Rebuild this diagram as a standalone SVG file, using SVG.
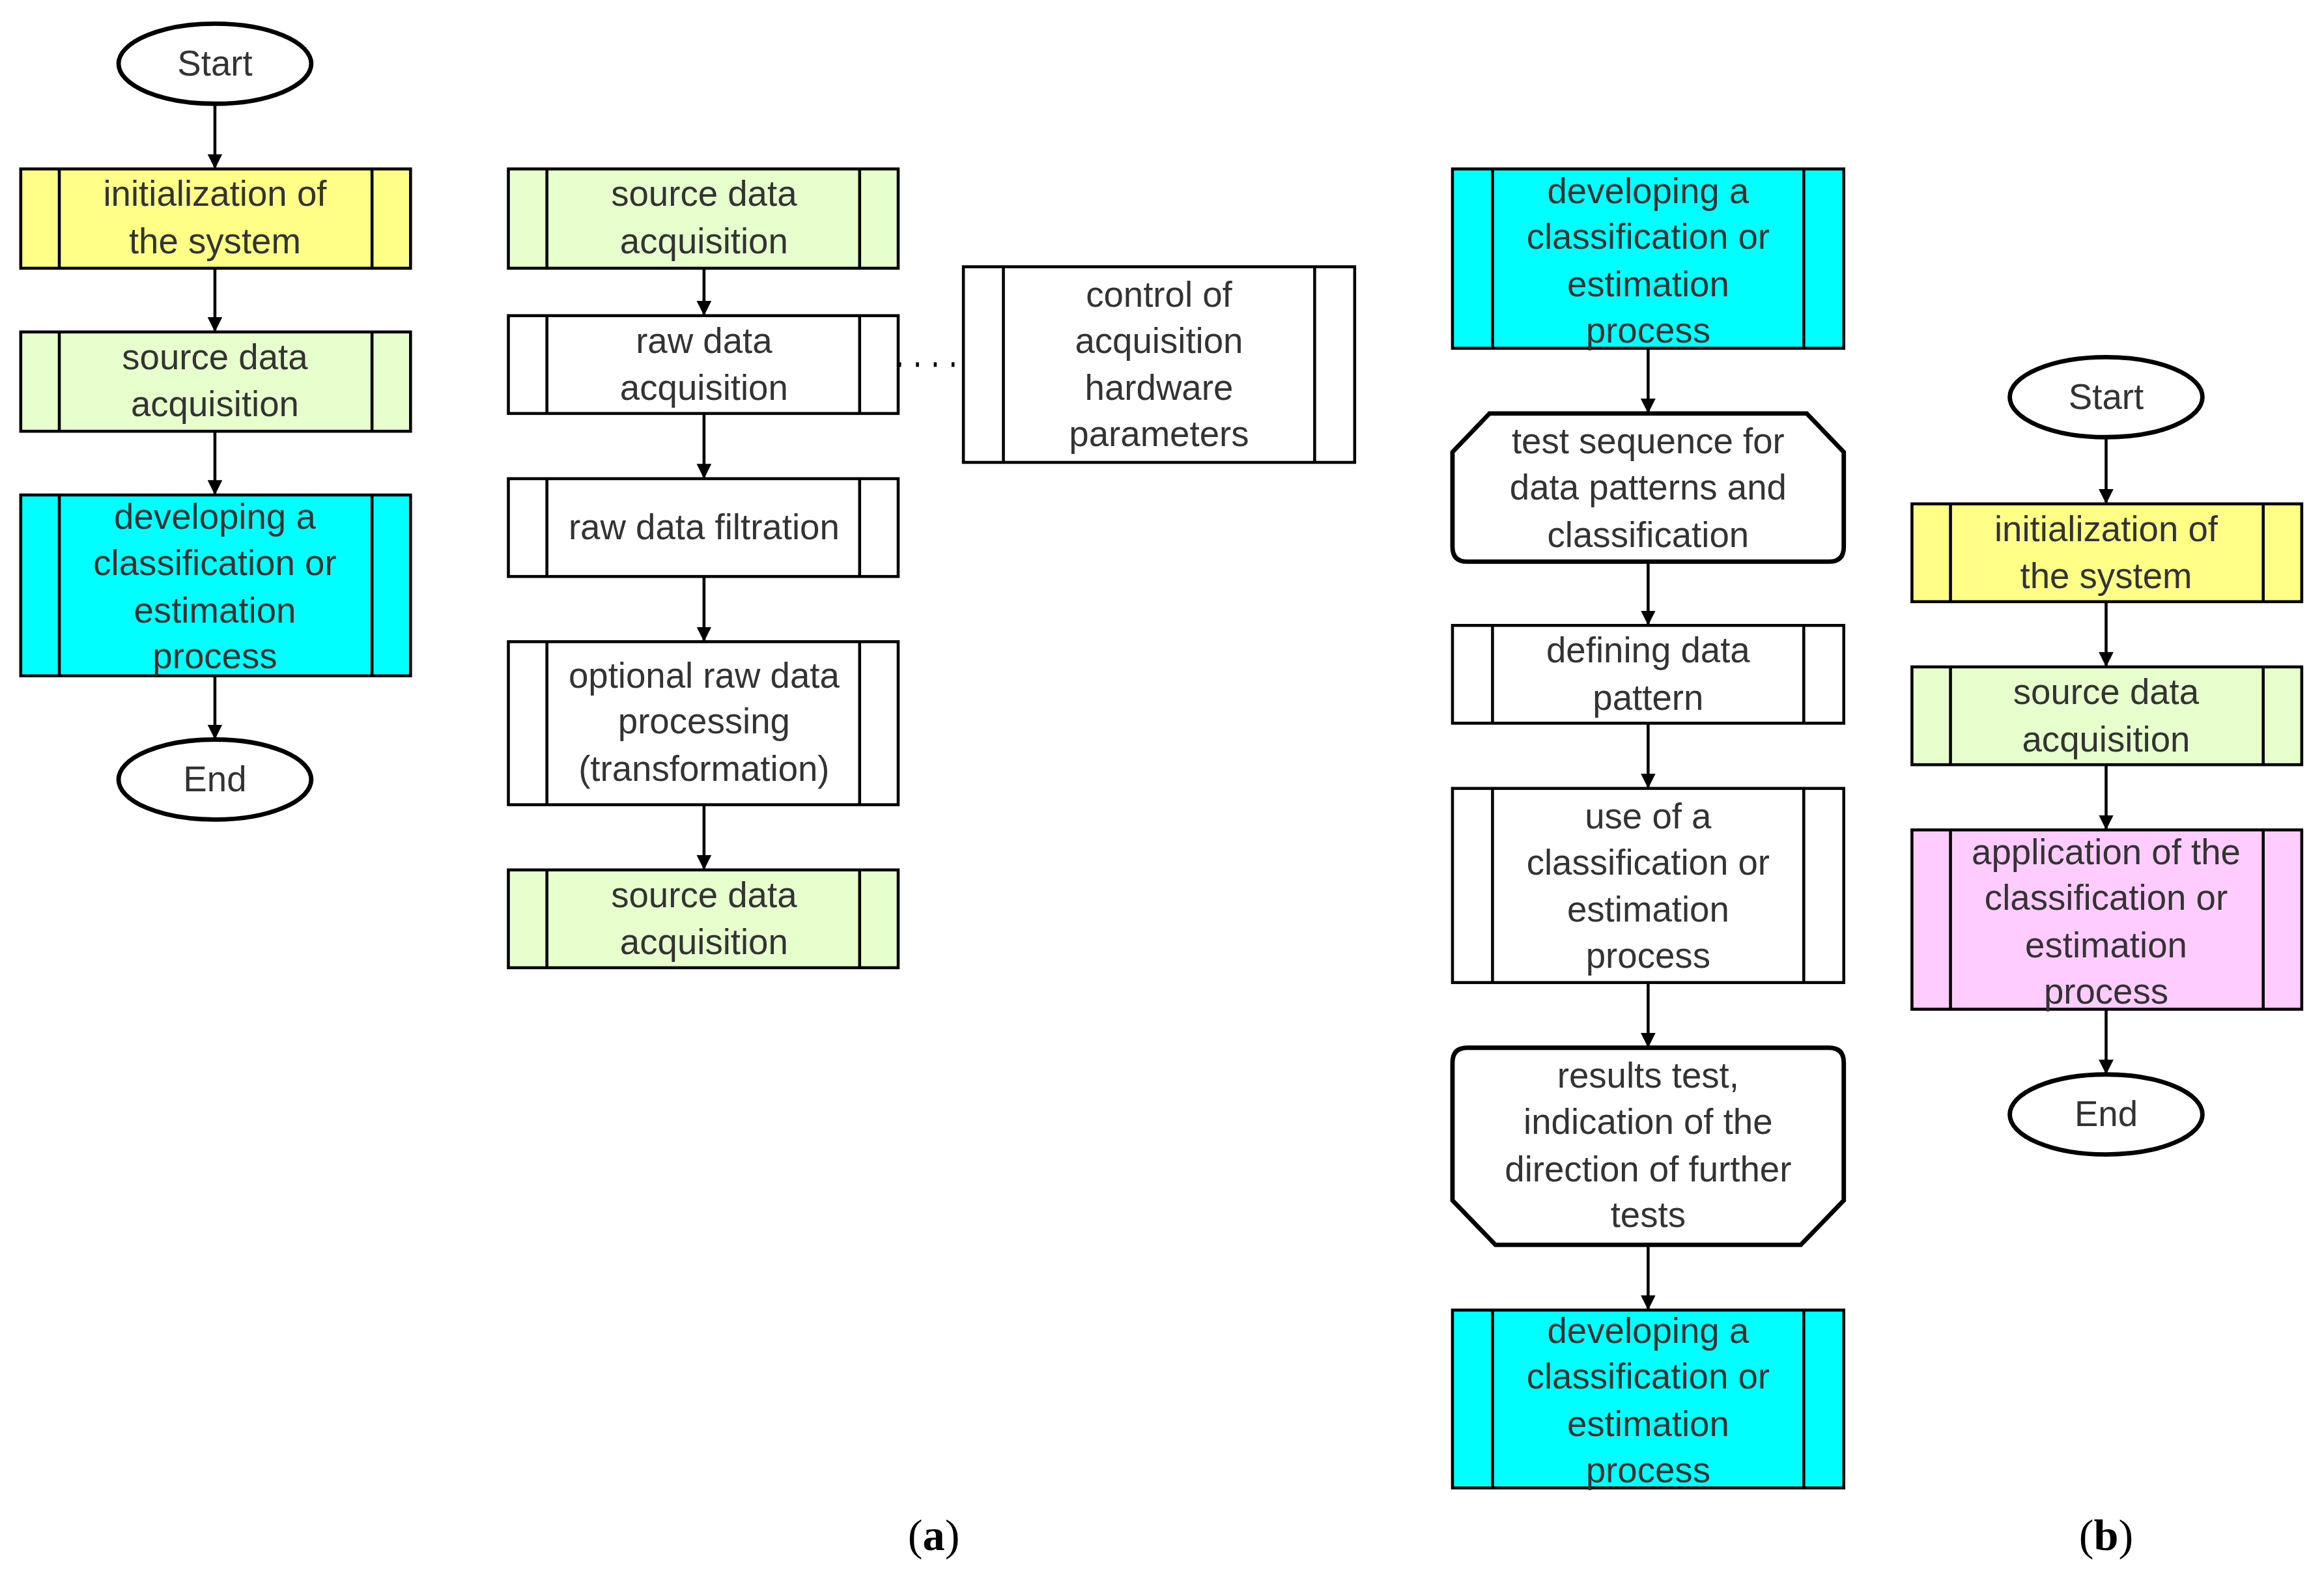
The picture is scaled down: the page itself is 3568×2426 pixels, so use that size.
<svg xmlns="http://www.w3.org/2000/svg" width="3568" height="2426" viewBox="0 0 3568 2426">
<defs>
<style>
.b{stroke:#000;stroke-width:2}
.y{fill:#ffff88}.g{fill:#e6ffcc}.c{fill:#00ffff}.w{fill:#fff}.p{fill:#ffccff}
.t{font-family:"Liberation Sans",Arial,sans-serif;font-size:24px;fill:#333;text-anchor:middle}
.e{stroke:#000;stroke-width:3;fill:#fff}
.a{stroke:#000;stroke-width:2;fill:none;marker-end:url(#ar)}
.l{font-family:"Liberation Serif",serif;font-size:30px;fill:#000;text-anchor:middle}
</style>
<marker id="ar" markerWidth="10" markerHeight="10" refX="9" refY="5" orient="auto" markerUnits="userSpaceOnUse"><path d="M0,0 L10,5 L0,10 Z" fill="#000"/></marker>
</defs>
<rect width="3568" height="2426" fill="#fff"/>
<g transform="scale(2.2755)">
<g id="connectors">
<line class="a" x1="145" y1="70" x2="145" y2="113"/>
<line class="a" x1="145" y1="181" x2="145" y2="223"/>
<line class="a" x1="145" y1="291" x2="145" y2="333"/>
<line class="a" x1="145" y1="456" x2="145" y2="498"/>
<line class="a" x1="475" y1="181" x2="475" y2="212"/>
<line class="a" x1="475" y1="279" x2="475" y2="322"/>
<line class="a" x1="475" y1="389" x2="475" y2="432"/>
<line class="a" x1="475" y1="543" x2="475" y2="586"/>
<line x1="606" y1="246" x2="650" y2="246" stroke="#000" stroke-width="3" stroke-dasharray="2,10"/>
<line class="a" x1="1112" y1="235" x2="1112" y2="278"/>
<line class="a" x1="1112" y1="379" x2="1112" y2="421"/>
<line class="a" x1="1112" y1="488" x2="1112" y2="531"/>
<line class="a" x1="1112" y1="663" x2="1112" y2="706"/>
<line class="a" x1="1112" y1="840" x2="1112" y2="883"/>
<line class="a" x1="1421" y1="295" x2="1421" y2="339"/>
<line class="a" x1="1421" y1="406" x2="1421" y2="449"/>
<line class="a" x1="1421" y1="516" x2="1421" y2="559"/>
<line class="a" x1="1421" y1="681" x2="1421" y2="724"/>
</g>
<g id="startA"><ellipse class="e" cx="145" cy="43" rx="65" ry="27"/><text class="t" x="145" y="51">Start</text></g>
<g id="initA"><rect class="b y" x="14" y="114" width="263" height="67"/><line class="b" x1="40" y1="114" x2="40" y2="181"/><line class="b" x1="251" y1="114" x2="251" y2="181"/><text class="t" x="145" y="139">initialization of</text><text class="t" x="145" y="171">the system</text></g>
<g id="srcA"><rect class="b g" x="14" y="224" width="263" height="67"/><line class="b" x1="40" y1="224" x2="40" y2="291"/><line class="b" x1="251" y1="224" x2="251" y2="291"/><text class="t" x="145" y="249">source data</text><text class="t" x="145" y="281">acquisition</text></g>
<g id="devA"><rect class="b c" x="14" y="334" width="263" height="122"/><line class="b" x1="40" y1="334" x2="40" y2="456"/><line class="b" x1="251" y1="334" x2="251" y2="456"/><text class="t" x="145" y="357">developing a</text><text class="t" x="145" y="388">classification or</text><text class="t" x="145" y="420">estimation</text><text class="t" x="145" y="451">process</text></g>
<g id="endA"><ellipse class="e" cx="145" cy="526" rx="65" ry="27"/><text class="t" x="145" y="534">End</text></g>

<g id="src2"><rect class="b g" x="343" y="114" width="263" height="67"/><line class="b" x1="369" y1="114" x2="369" y2="181"/><line class="b" x1="580" y1="114" x2="580" y2="181"/><text class="t" x="475" y="139">source data</text><text class="t" x="475" y="171">acquisition</text></g>
<g id="raw"><rect class="b w" x="343" y="213" width="263" height="66"/><line class="b" x1="369" y1="213" x2="369" y2="279"/><line class="b" x1="580" y1="213" x2="580" y2="279"/><text class="t" x="475" y="238">raw data</text><text class="t" x="475" y="270">acquisition</text></g>
<g id="ctrl"><rect class="b w" x="650" y="180" width="264" height="132"/><line class="b" x1="677" y1="180" x2="677" y2="312"/><line class="b" x1="887" y1="180" x2="887" y2="312"/><text class="t" x="782" y="207">control of</text><text class="t" x="782" y="238">acquisition</text><text class="t" x="782" y="270">hardware</text><text class="t" x="782" y="301">parameters</text></g>
<g id="filt"><rect class="b w" x="343" y="323" width="263" height="66"/><line class="b" x1="369" y1="323" x2="369" y2="389"/><line class="b" x1="580" y1="323" x2="580" y2="389"/><text class="t" x="475" y="364">raw data filtration</text></g>
<g id="opt"><rect class="b w" x="343" y="433" width="263" height="110"/><line class="b" x1="369" y1="433" x2="369" y2="543"/><line class="b" x1="580" y1="433" x2="580" y2="543"/><text class="t" x="475" y="464">optional raw data</text><text class="t" x="475" y="495">processing</text><text class="t" x="475" y="527">(transformation)</text></g>
<g id="src3"><rect class="b g" x="343" y="587" width="263" height="66"/><line class="b" x1="369" y1="587" x2="369" y2="653"/><line class="b" x1="580" y1="587" x2="580" y2="653"/><text class="t" x="475" y="612">source data</text><text class="t" x="475" y="644">acquisition</text></g>

<g id="dev1"><rect class="b c" x="980" y="114" width="264" height="121"/><line class="b" x1="1007" y1="114" x2="1007" y2="235"/><line class="b" x1="1217" y1="114" x2="1217" y2="235"/><text class="t" x="1112" y="137">developing a</text><text class="t" x="1112" y="168">classification or</text><text class="t" x="1112" y="200">estimation</text><text class="t" x="1112" y="231">process</text></g>
<g id="test"><path class="e" d="M1005,279 L1219,279 L1244,305 L1244,369 Q1244,379 1234,379 L990,379 Q980,379 980,369 L980,305 Z"/><text class="t" x="1112" y="306">test sequence for</text><text class="t" x="1112" y="337">data patterns and</text><text class="t" x="1112" y="369">classification</text></g>
<g id="def"><rect class="b w" x="980" y="422" width="264" height="66"/><line class="b" x1="1007" y1="422" x2="1007" y2="488"/><line class="b" x1="1217" y1="422" x2="1217" y2="488"/><text class="t" x="1112" y="447">defining data</text><text class="t" x="1112" y="479">pattern</text></g>
<g id="use"><rect class="b w" x="980" y="532" width="264" height="131"/><line class="b" x1="1007" y1="532" x2="1007" y2="663"/><line class="b" x1="1217" y1="532" x2="1217" y2="663"/><text class="t" x="1112" y="559">use of a</text><text class="t" x="1112" y="590">classification or</text><text class="t" x="1112" y="622">estimation</text><text class="t" x="1112" y="653">process</text></g>
<g id="res"><path class="e" d="M990,707 L1234,707 Q1244,707 1244,717 L1244,810 L1215,840 L1009,840 L980,810 L980,717 Q980,707 990,707 Z"/><text class="t" x="1112" y="734">results test,</text><text class="t" x="1112" y="765">indication of the</text><text class="t" x="1112" y="797">direction of further</text><text class="t" x="1112" y="828">tests</text></g>
<g id="dev2"><rect class="b c" x="980" y="884" width="264" height="120"/><line class="b" x1="1007" y1="884" x2="1007" y2="1004"/><line class="b" x1="1217" y1="884" x2="1217" y2="1004"/><text class="t" x="1112" y="906">developing a</text><text class="t" x="1112" y="937">classification or</text><text class="t" x="1112" y="969">estimation</text><text class="t" x="1112" y="1000">process</text></g>

<g id="startB"><ellipse class="e" cx="1421" cy="268" rx="65" ry="27"/><text class="t" x="1421" y="276">Start</text></g>
<g id="initB"><rect class="b y" x="1290" y="340" width="263" height="66"/><line class="b" x1="1316" y1="340" x2="1316" y2="406"/><line class="b" x1="1527" y1="340" x2="1527" y2="406"/><text class="t" x="1421" y="365">initialization of</text><text class="t" x="1421" y="397">the system</text></g>
<g id="srcB"><rect class="b g" x="1290" y="450" width="263" height="66"/><line class="b" x1="1316" y1="450" x2="1316" y2="516"/><line class="b" x1="1527" y1="450" x2="1527" y2="516"/><text class="t" x="1421" y="475">source data</text><text class="t" x="1421" y="507">acquisition</text></g>
<g id="app"><rect class="b p" x="1290" y="560" width="263" height="121"/><line class="b" x1="1316" y1="560" x2="1316" y2="681"/><line class="b" x1="1527" y1="560" x2="1527" y2="681"/><text class="t" x="1421" y="583">application of the</text><text class="t" x="1421" y="614">classification or</text><text class="t" x="1421" y="646">estimation</text><text class="t" x="1421" y="677">process</text></g>
<g id="endB"><ellipse class="e" cx="1421" cy="752" rx="65" ry="27"/><text class="t" x="1421" y="760">End</text></g>

<text class="l" x="630" y="1046">(<tspan font-weight="bold">a</tspan>)</text>
<text class="l" x="1421" y="1046">(<tspan font-weight="bold">b</tspan>)</text>
</g>
</svg>
